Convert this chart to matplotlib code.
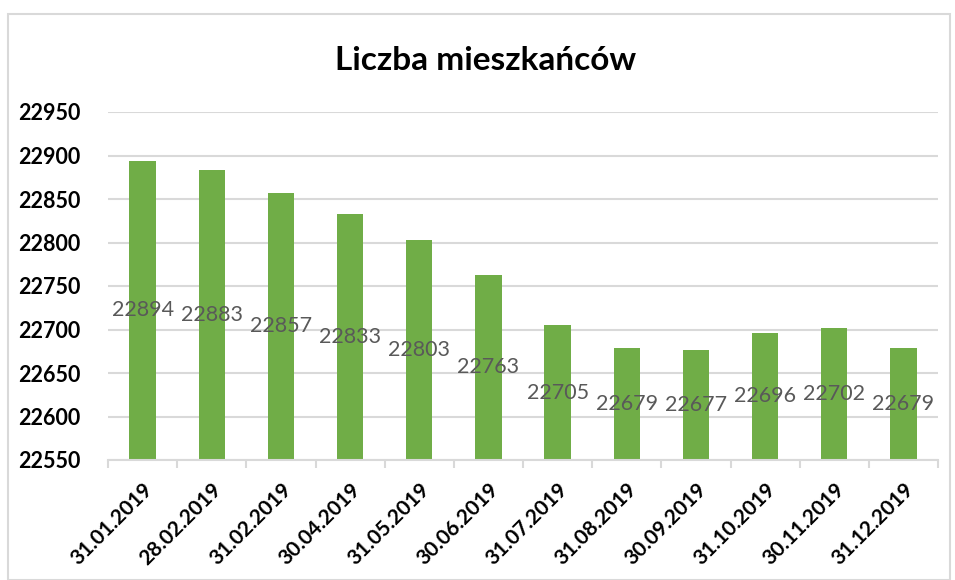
import matplotlib.pyplot as plt
from matplotlib.patches import Rectangle
from matplotlib.ticker import MultipleLocator

# dane: liczba mieszkańców na koniec miesiąca
dates = ["31.01.2019", "28.02.2019", "31.02.2019", "30.04.2019", "31.05.2019", "30.06.2019",
         "31.07.2019", "31.08.2019", "30.09.2019", "31.10.2019", "30.11.2019", "31.12.2019"]
residents = [22894, 22883, 22857, 22833, 22803, 22763,
             22705, 22679, 22677, 22696, 22702, 22679]
y_min, y_max = 22550, 22950

plt.rcParams['font.family'] = ['Lato', 'DejaVu Sans']

fig = plt.figure(figsize=(9.55, 5.8), dpi=100)
ax = fig.add_axes([108 / 955, 1 - 460 / 580, 830 / 955, 348 / 580])

# ramka wykresu jak w Excelu
fig.patches.append(Rectangle((8 / 955, 0), 942 / 955, 1 - 14 / 580, transform=fig.transFigure,
                             fill=False, edgecolor='#d9d9d9', linewidth=1.5))

x = range(len(dates))
bars = ax.bar(x, [v - y_min for v in residents], bottom=y_min, width=0.38,
              color='#70ad47', zorder=2)

for xi, v in zip(x, residents):
    ax.text(xi, (v + y_min) / 2, str(v), ha='center', va='center',
            fontsize=15.5, color='#595959', zorder=3)

ax.set_xlim(-0.5, len(dates) - 0.5)
ax.set_ylim(y_min, y_max)
ax.yaxis.set_major_locator(MultipleLocator(50))
ax.grid(axis='y', color='#d9d9d9', linewidth=1.5, zorder=0)

for side in ['top', 'right', 'left']:
    ax.spines[side].set_visible(False)
ax.spines['bottom'].set_color('#d9d9d9')
ax.spines['bottom'].set_linewidth(1.5)

# podziałki między kategoriami
ax.set_xticks([i - 0.5 for i in range(len(dates) + 1)], minor=True)
ax.tick_params(axis='x', which='minor', length=6, width=1.5, color='#d9d9d9')
ax.set_xticks(list(x))
ax.set_xticklabels(dates, rotation=45, ha='right', rotation_mode='anchor',
                   fontsize=15, fontweight='bold')
ax.tick_params(axis='x', which='major', length=0, pad=14)
ax.tick_params(axis='y', length=0, pad=20, labelsize=15.5)
for lbl in ax.get_yticklabels():
    lbl.set_fontweight('bold')

fig.text(486 / 955, 1 - 60 / 580, "Liczba mieszkańców", ha='center', va='center',
         fontsize=24, fontweight='bold')

fig.savefig('out.png', dpi=100)
